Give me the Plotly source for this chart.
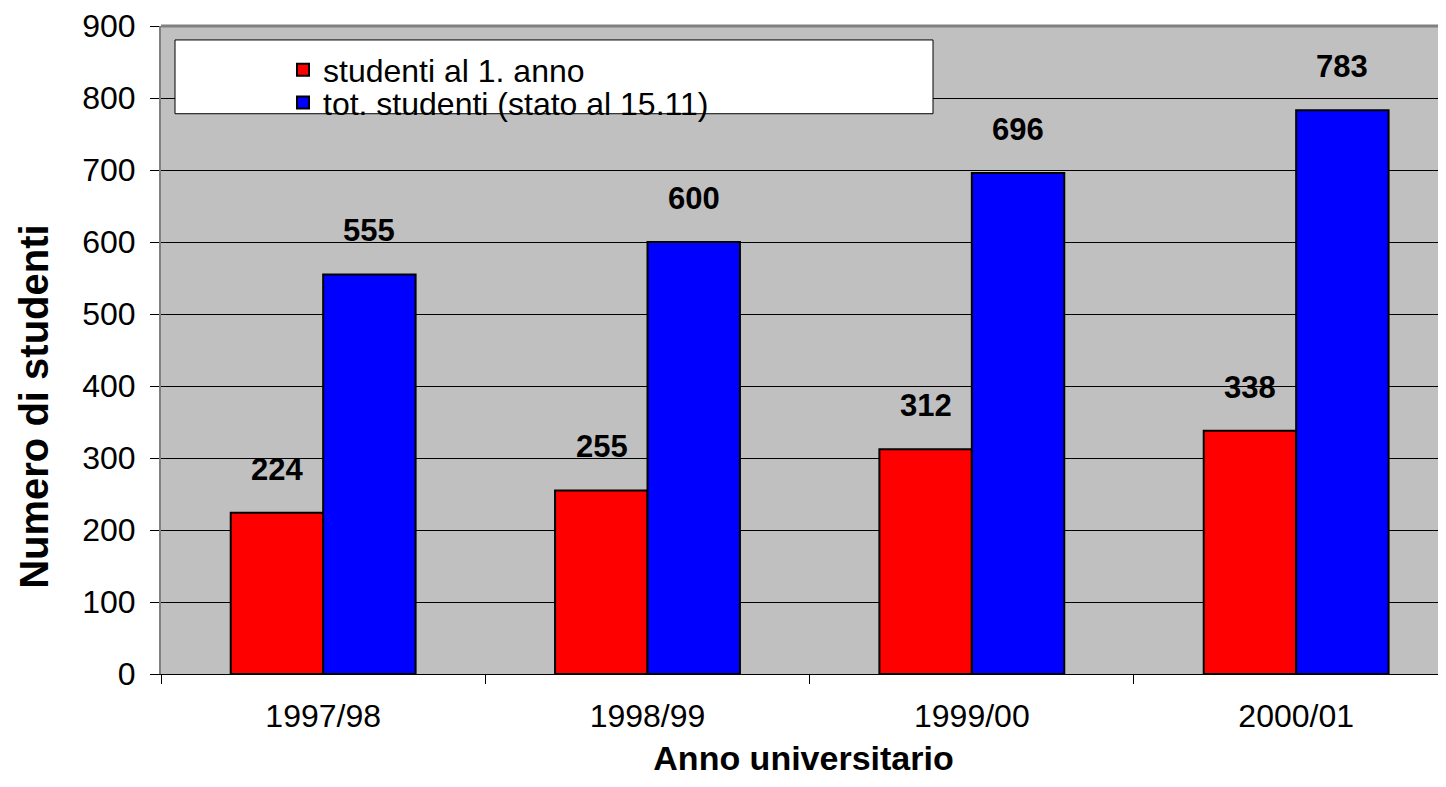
import plotly.graph_objects as go

categories = ["1997/98", "1998/99", "1999/00", "2000/01"]
first_year = [224, 255, 312, 338]
total_students = [555, 600, 696, 783]
series_names = ["studenti al 1. anno", "tot. studenti (stato al 15.11)"]
y_ticks = [0, 100, 200, 300, 400, 500, 600, 700, 800, 900]

FONT = "Liberation Sans, Arial, sans-serif"

# page body has an 8px margin; the figure is sized so the plot area lands where the reference has it
W, H = 1438, 779
ML, MT, MB, MR = 153, 16, 113, 0
PW = W - ML - MR
PH = H - MT - MB


def px_x(sx):  # screen x -> paper x
    return (sx - 8 - ML) / PW


def px_y(sy):  # screen y -> paper y
    return (H - MB - (sy - 8)) / PH


fig = go.Figure()
fig.add_trace(go.Bar(x=categories, y=first_year, name=series_names[0], legend="legend",
                     marker=dict(color="#FF0000", line=dict(color="black", width=2))))
fig.add_trace(go.Bar(x=categories, y=total_students, name=series_names[1], legend="legend2",
                     marker=dict(color="#0000FF", line=dict(color="black", width=2))))

annotations = []
for i, c in enumerate(categories):
    for vals, shift in ((first_year, -46), (total_students, 46)):
        annotations.append(dict(x=c, y=vals[i], xref="x", yref="y", text=f"<b>{vals[i]}</b>",
                                showarrow=False, yanchor="bottom", xshift=shift, yshift=24,
                                font=dict(family=FONT, size=31, color="black")))

# y-axis title (placed as in the reference, slightly below the plot centre)
annotations.append(dict(x=px_x(34), y=px_y(406), xref="paper", yref="paper",
                        text="<b>Numero di studenti</b>", textangle=-90, showarrow=False,
                        xanchor="center", yanchor="middle", borderpad=0,
                        font=dict(family=FONT, size=40, color="black")))

shapes = [
    # legend box
    dict(type="rect", xref="paper", yref="paper", x0=px_x(175), x1=px_x(933),
         y0=px_y(112), y1=px_y(38), fillcolor="white",
         line=dict(color="black", width=1), layer="above"),
    # gray top frame line
    dict(type="line", xref="paper", yref="paper", x0=0, x1=1, y0=1, y1=1,
         line=dict(color="#808080", width=3)),
]

leg_common = dict(xanchor="left", yanchor="middle", bgcolor="rgba(0,0,0,0)", borderwidth=0,
                  font=dict(family=FONT, size=32, color="black"), itemwidth=30)

fig.update_layout(
    width=W, height=H,
    margin=dict(l=ML, r=MR, t=MT, b=MB),
    paper_bgcolor="white", plot_bgcolor="#C0C0C0",
    barmode="group", bargap=0.43, bargroupgap=0,
    font=dict(family=FONT, size=32, color="black"),
    showlegend=True,
    legend=dict(x=px_x(283), y=px_y(68), **leg_common),
    legend2=dict(x=px_x(283), y=px_y(101), **leg_common),
    annotations=annotations,
    shapes=shapes,
    xaxis=dict(range=[-0.5, 3.462], tickson="boundaries", ticks="outside", ticklen=9,
               tickcolor="black", showline=True, linecolor="black", linewidth=1,
               tickfont=dict(size=32), showgrid=False, ticklabelstandoff=14,
               title=dict(text="<b>Anno universitario</b>", font=dict(size=34), standoff=12)),
    yaxis=dict(range=[0, 900], tickvals=y_ticks, ticks="outside", ticklen=9, tickcolor="black",
               showline=True, linecolor="#808080", linewidth=2, showgrid=True,
               gridcolor="black", gridwidth=1, tickfont=dict(size=32), zeroline=False,
               ticklabelstandoff=8, ticklabeloverflow="allow"),
)

fig.write_html("out.html")
